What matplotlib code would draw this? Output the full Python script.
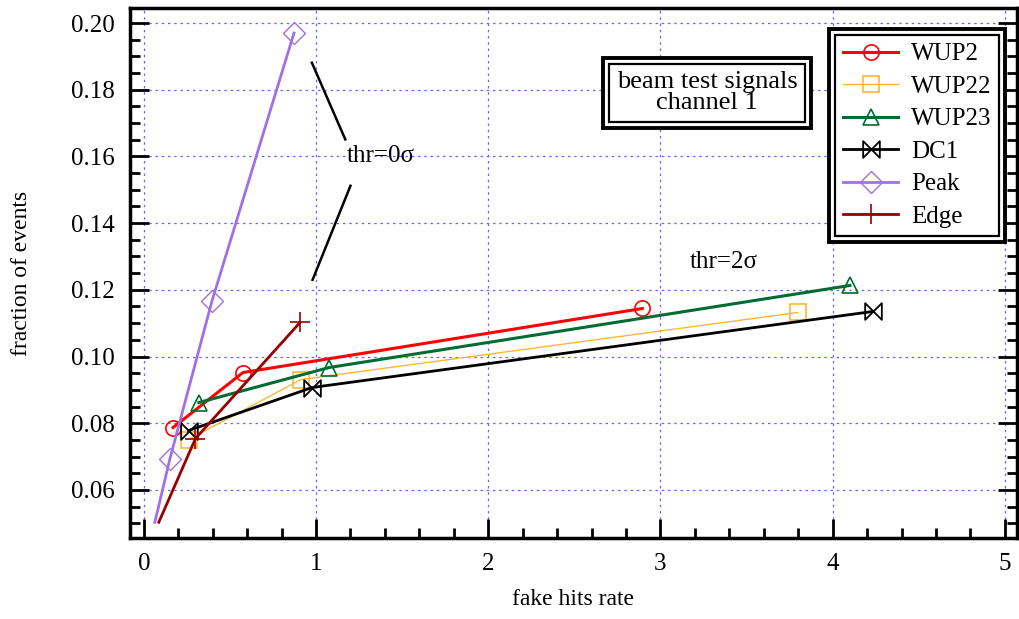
import matplotlib.pyplot as plt
from matplotlib.path import Path
from matplotlib.patches import Rectangle
from matplotlib.ticker import MultipleLocator, FormatStrFormatter

plt.rcParams['font.family'] = ['Liberation Serif', 'DejaVu Serif']

# fake hit rate vs. fraction of events, one series per detector / method
wup2_x = [0.17, 0.576, 2.895]
wup2_y = [0.0787, 0.0952, 0.1144]

wup22_x = [0.26, 0.913, 3.797]
wup22_y = [0.0751, 0.0931, 0.1132]

wup23_x = [0.32, 1.076, 4.10]
wup23_y = [0.0862, 0.0967, 0.1213]

dc1_x = [0.26, 0.977, 4.233]
dc1_y = [0.0778, 0.0907, 0.1135]

peak_x = [0.064, 0.151, 0.395, 0.872]
peak_y = [0.0503, 0.0692, 0.1165, 0.197]

edge_x = [0.087, 0.30, 0.907]
edge_y = [0.0503, 0.0754, 0.1102]

# bow-tie marker for DC1
bowtie = Path([(-1, 1), (1, -1), (1, 1), (-1, -1), (-1, 1)],
              [Path.MOVETO, Path.LINETO, Path.LINETO, Path.LINETO, Path.CLOSEPOLY])

fig = plt.figure(figsize=(10.19, 6.19), dpi=100)
ax = fig.add_axes([0.1276, 0.131, 0.8704, 0.856])

ax.plot(wup2_x, wup2_y, color='#ff0000', lw=2.2, marker='o', ms=11,
        mfc='none', mew=1.2, label='WUP2')
ax.plot(wup22_x, wup22_y, color='#ffb733', lw=1.0, marker='s', ms=11,
        mfc='none', mew=1.2, label='WUP22')
ax.plot(wup23_x, wup23_y, color='#006b33', lw=2.2, marker='^', ms=12,
        mfc='none', mew=1.2, label='WUP23')
ax.plot(dc1_x, dc1_y, color='black', lw=2.0, marker=bowtie, ms=12,
        mfc='none', mew=1.3, label='DC1')
ax.plot(peak_x, peak_y, color='#a070e8', lw=2.0, marker='D', ms=11,
        mfc='none', mew=1.0, markevery=[1, 2, 3], label='Peak')
ax.plot(edge_x, edge_y, color='#990000', lw=2.0, marker='+', ms=14,
        mew=1.2, markevery=[1, 2], label='Edge')

ax.set_xlim(-0.08, 5.07)
ax.set_ylim(0.0456, 0.2045)

ax.xaxis.set_major_locator(MultipleLocator(1))
ax.xaxis.set_minor_locator(MultipleLocator(0.2))
ax.yaxis.set_major_locator(MultipleLocator(0.02))
ax.yaxis.set_minor_locator(MultipleLocator(0.005))
ax.yaxis.set_major_formatter(FormatStrFormatter('%.2f'))

ax.tick_params(which='both', direction='in', right=True, top=False,
               labelsize=18, width=2, pad=11)
ax.tick_params(which='major', length=14)
ax.tick_params(which='minor', length=7)
for s in ax.spines.values():
    s.set_linewidth(2.5)

ax.grid(True, which='major', color='#6666ff', ls=(0, (2, 3)), lw=0.9)

ax.set_xlabel('fake hits rate', fontsize=17, labelpad=10)
ax.set_ylabel('fraction of events', fontsize=17, labelpad=28)

# threshold annotations
ax.text(1.18, 0.160, 'thr=0σ', fontsize=18, va='center', ha='left')
ax.plot([0.976, 1.17], [0.1881, 0.1651], color='black', lw=1.8)
ax.plot([1.20, 0.98], [0.1512, 0.1230], color='black', lw=1.8)
ax.text(3.37, 0.1284, 'thr=2σ', fontsize=18, va='center', ha='center')

# info box
info = ax.text(3.27, 0.1791, 'beam test signals\nchannel 1', fontsize=19,
               ha='center', va='center', linespacing=0.95, zorder=5,
               bbox=dict(boxstyle='square,pad=0.5', fc='white', ec='black', lw=2.8))

leg = ax.legend(loc='upper right', fontsize=18, frameon=True, fancybox=False,
                edgecolor='black', handlelength=2.2, handletextpad=0.5,
                borderpad=0.55, labelspacing=0.4, framealpha=1,
                borderaxespad=0, bbox_to_anchor=(0.9865, 0.9604))
leg.get_frame().set_linewidth(2.8)

# inner line of the double frames
fig.canvas.draw()
for box in (info.get_bbox_patch().get_window_extent(), leg.get_frame().get_window_extent()):
    inset = 6
    (x0, y0), (x1, y1) = fig.transFigure.inverted().transform(
        [(box.x0 + inset, box.y0 + inset), (box.x1 - inset, box.y1 - inset)])
    fig.add_artist(Rectangle((x0, y0), x1 - x0, y1 - y0, transform=fig.transFigure,
                             fill=False, ec='black', lw=1.6, zorder=10))

fig.savefig('out.png', dpi=100)
